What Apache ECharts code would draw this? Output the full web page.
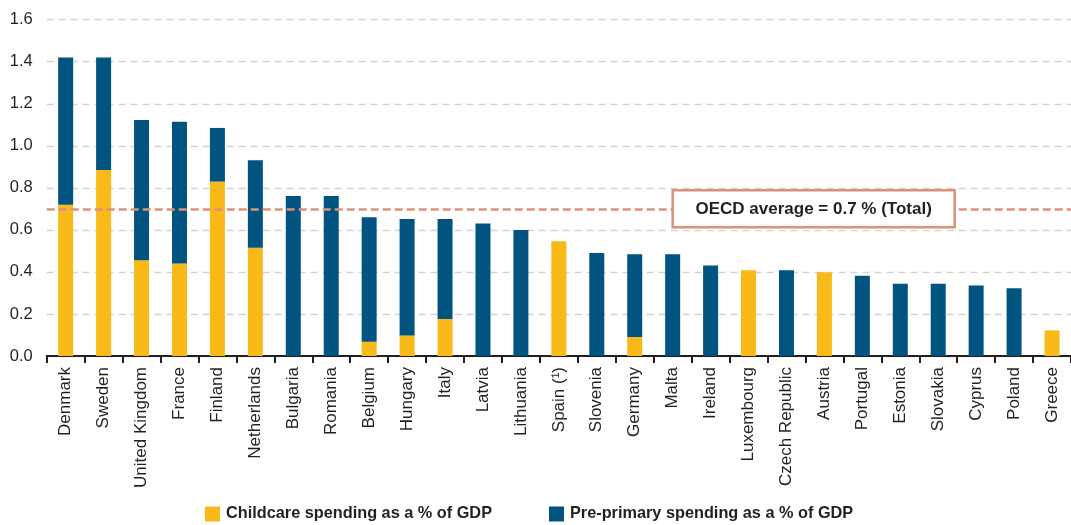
<!DOCTYPE html>
<html>
<head>
  <meta charset="utf-8" />
  <title>Childcare and pre-primary spending</title>
  <script src="https://cdn.jsdelivr.net/npm/echarts@6/dist/echarts.min.js"></script>
  <style>
    html, body { margin: 0; padding: 0; background: #ffffff; }
    #main { width: 1071px; height: 525px; }
  </style>
</head>
<body>
<div id="main"></div>
<script>
  // data
  let countries = ['Denmark', 'Sweden', 'United Kingdom', 'France', 'Finland', 'Netherlands', 'Bulgaria',
    'Romania', 'Belgium', 'Hungary', 'Italy', 'Latvia', 'Lithuania', 'Spain (¹)', 'Slovenia', 'Germany',
    'Malta', 'Ireland', 'Luxembourg', 'Czech Republic', 'Austria', 'Portugal', 'Estonia', 'Slovakia',
    'Cyprus', 'Poland', 'Greece']
  let childcare = [0.72, 0.885, 0.455, 0.44, 0.83, 0.515, 0, 0, 0.068, 0.098, 0.176, 0, 0, 0.546, 0,
    0.09, 0, 0, 0.408, 0, 0.398, 0, 0, 0, 0, 0, 0.122]
  let prePrimary = [0.70, 0.535, 0.668, 0.675, 0.255, 0.416, 0.761, 0.761, 0.592, 0.554, 0.476, 0.63, 0.60,
    0, 0.49, 0.394, 0.484, 0.43, 0, 0.408, 0, 0.382, 0.344, 0.344, 0.336, 0.322, 0]
  let oecdAverage = 0.7
  let oecdLabel = 'OECD average = 0.7 % (Total)'
  let seriesNames = ['Childcare spending as a % of GDP', 'Pre-primary spending as a % of GDP']

  let colorYellow = '#f8b919'
  let colorBlue = '#00547f'
  let colorOecd = '#da9279'
  let textColor = '#231f20'
  let fontName = 'Liberation Sans'

  let chart = echarts.init(document.getElementById('main'))

  let option = {
    animation: false,
    textStyle: { fontFamily: fontName },
    grid: {
      left: 46.7,
      top: 19.7,
      width: 1028.7,
      height: 336.3,
    },
    legend: {
      left: 205,
      top: 506,
      padding: 0,
      itemWidth: 15,
      itemHeight: 15,
      itemGap: 57,
      icon: 'rect',
      data: seriesNames,
      textStyle: {
        fontFamily: fontName,
        fontSize: 16.3,
        fontWeight: 'bold',
        color: textColor,
        padding: [0, 0, 0, 1],
      },
    },
    xAxis: {
      type: 'category',
      data: countries,
      axisLine: { lineStyle: { color: textColor, width: 2 } },
      axisTick: { show: true, length: 7, lineStyle: { color: textColor, width: 2 } },
      axisLabel: {
        rotate: 90,
        interval: 0,
        margin: 11,
        fontSize: 17,
        color: textColor,
        fontFamily: fontName,
      },
    },
    yAxis: {
      type: 'value',
      min: 0,
      max: 1.6,
      interval: 0.2,
      axisLine: { show: false },
      axisTick: { show: false },
      axisLabel: {
        margin: 14,
        fontSize: 16.5,
        color: textColor,
        fontFamily: fontName,
        formatter: (v) => v.toFixed(1),
      },
      splitLine: {
        lineStyle: { color: '#d3d3d3', width: 1.3, type: [7, 5] },
      },
    },
    series: [
      {
        name: seriesNames[0],
        type: 'bar',
        stack: 'total',
        barWidth: 15,
        itemStyle: { color: colorYellow },
        data: childcare,
      },
      {
        name: seriesNames[1],
        type: 'bar',
        stack: 'total',
        barWidth: 15,
        itemStyle: { color: colorBlue },
        data: prePrimary,
        markLine: {
          silent: true,
          symbol: 'none',
          label: { show: false },
          lineStyle: { color: colorOecd, width: 2.5, type: [8, 4] },
          data: [{ yAxis: oecdAverage }],
        },
      },
    ],
  }

  chart.setOption(option)

  // OECD label box, placed on the average line
  let boxY = chart.convertToPixel({ yAxisIndex: 0 }, oecdAverage)
  let boxX = chart.convertToPixel({ xAxisIndex: 0 }, 'Malta')
  let boxW = 282
  let boxH = 37
  chart.setOption({
    graphic: [
      {
        type: 'rect',
        x: boxX,
        y: boxY - boxH / 2,
        z: 100,
        zlevel: 1,
        shape: { x: 0, y: 0, width: boxW, height: boxH },
        style: { fill: '#ffffff', stroke: colorOecd, lineWidth: 2.5 },
      },
      {
        type: 'text',
        x: boxX + boxW / 2,
        y: boxY,
        z: 101,
        zlevel: 1,
        style: {
          text: oecdLabel,
          fontFamily: fontName,
          fontSize: 17,
          fontWeight: 'bold',
          fill: textColor,
          align: 'center',
          verticalAlign: 'middle',
        },
      },
    ],
  })
</script>
</body>
</html>
